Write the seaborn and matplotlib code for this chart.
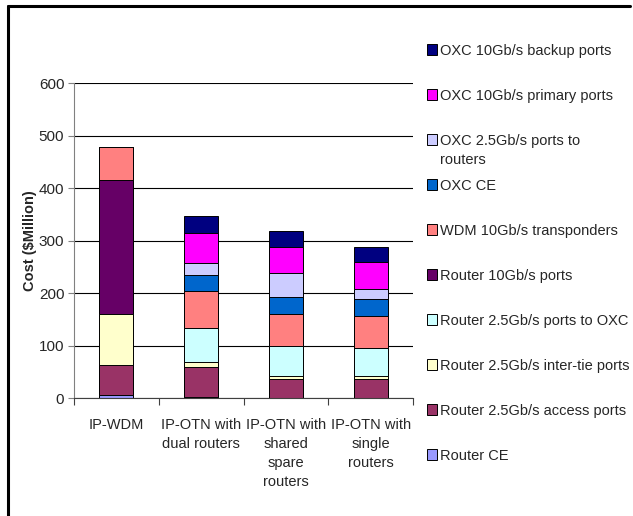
import numpy as np
import pandas as pd
import matplotlib
matplotlib.use("Agg")
import matplotlib.pyplot as plt
import seaborn as sns
from matplotlib.lines import Line2D
from matplotlib.patches import Rectangle
from matplotlib.ticker import MultipleLocator, FixedLocator

# Scenarios on the x axis
scenarios = ["IP-WDM", "IP-OTN with\ndual routers", "IP-OTN with\nshared\nspare\nrouters",
             "IP-OTN with\nsingle\nrouters"]

# Cost components, bottom of the stack first ($Million)
router_ce = [6, 3, 1, 1]
router_access = [58, 56, 36, 36]
router_intertie = [96, 11, 6, 6]
router_to_oxc = [0, 63, 56, 52]
router_10g = [255, 0, 0, 0]
wdm_transponders = [63, 71, 62, 62]
oxc_ce = [0, 30, 32, 32]
oxc_25g_routers = [0, 23, 45, 19]
oxc_10g_primary = [0, 58, 51, 52]
oxc_10g_backup = [0, 33, 29, 28]

series_names = ["Router CE", "Router 2.5Gb/s access ports", "Router 2.5Gb/s inter-tie ports",
                "Router 2.5Gb/s ports to OXC", "Router 10Gb/s ports", "WDM 10Gb/s transponders",
                "OXC CE", "OXC 2.5Gb/s ports to\nrouters", "OXC 10Gb/s primary ports",
                "OXC 10Gb/s backup ports"]
series_values = [router_ce, router_access, router_intertie, router_to_oxc, router_10g,
                 wdm_transponders, oxc_ce, oxc_25g_routers, oxc_10g_primary, oxc_10g_backup]
colors = ["#9999FF", "#993366", "#FFFFCC", "#CCFFFF", "#660066",
          "#FF8080", "#0066CC", "#CCCCFF", "#FF00FF", "#000080"]

# long table with cumulative tops
rows = []
for name, vals in zip(series_names, series_values):
    for sc, v in zip(scenarios, vals):
        rows.append({"series": name, "scenario": sc, "value": v})
df = pd.DataFrame(rows)
df["top"] = df.groupby("scenario", sort=False)["value"].cumsum()

sns.set_style("white")
plt.rcParams["font.family"] = ["Liberation Sans", "DejaVu Sans"]
fs = 10.5

W, H = 633, 516
fig = plt.figure(figsize=(W / 100, H / 100), dpi=100)
ax = fig.add_axes([74 / W, 1 - 398.3 / H, (413 - 74) / W, (398.3 - 83.3) / H])

# draw tallest cumulative first so lower segments sit on top
for name, col in reversed(list(zip(series_names, colors))):
    sub = df[df["series"] == name]
    sns.barplot(data=sub, x="scenario", y="top", order=scenarios, color=col,
                edgecolor="black", linewidth=0.7, width=0.4, ax=ax, saturation=1)

ax.set_ylim(0, 600)
ax.set_xlim(-0.5, 3.5)
ax.yaxis.set_major_locator(MultipleLocator(100))
ax.set_axisbelow(True)
ax.grid(axis="y", color="black", linewidth=0.8)
ax.grid(axis="x", visible=False)
for s in ["top", "right"]:
    ax.spines[s].set_visible(False)
ax.spines["left"].set_color("#808080")
ax.spines["bottom"].set_color("#404040")
ax.spines["left"].set_linewidth(0.8)
ax.spines["bottom"].set_linewidth(0.8)

ax.xaxis.set_minor_locator(FixedLocator([-0.5, 0.5, 1.5, 2.5, 3.5]))
ax.tick_params(axis="x", which="major", length=0, pad=14, labelsize=fs)
ax.tick_params(axis="x", which="minor", length=5, direction="out", color="#404040", width=0.8,
               bottom=True)
ax.tick_params(axis="y", length=4, direction="out", color="#808080", width=0.8, labelsize=11,
               left=True, pad=3)
for lab in ax.get_xticklabels():
    lab.set_linespacing(1.45)
    lab.set_ha("center")

ax.set_xlabel("")
ax.set_ylabel(r"Cost (\$Million)", fontweight="bold", fontsize=fs, labelpad=1)

# legend on the right, top entry = top of stack
for i, (name, col) in enumerate(reversed(list(zip(series_names, colors)))):
    yc = 49.3 + 45 * i
    fig.add_artist(Rectangle((426.7 / W, 1 - (yc + 5.5) / H), 10.5 / W, 10.5 / H,
                             transform=fig.transFigure, facecolor=col, edgecolor="black",
                             linewidth=0.7))
    fig.text(440 / W, 1 - (yc - 5.2) / H, name, fontsize=fs, va="top", ha="left",
             linespacing=1.45)

# outer frame (top and left edges)
fig.add_artist(Line2D([8 / W, 8 / W], [0, 1 - 6 / H], transform=fig.transFigure,
                      color="black", linewidth=2.2))
fig.add_artist(Line2D([8 / W, 630 / W], [1 - 6 / H, 1 - 6 / H], transform=fig.transFigure,
                      color="black", linewidth=2.2))

fig.savefig("out.png", dpi=100)
